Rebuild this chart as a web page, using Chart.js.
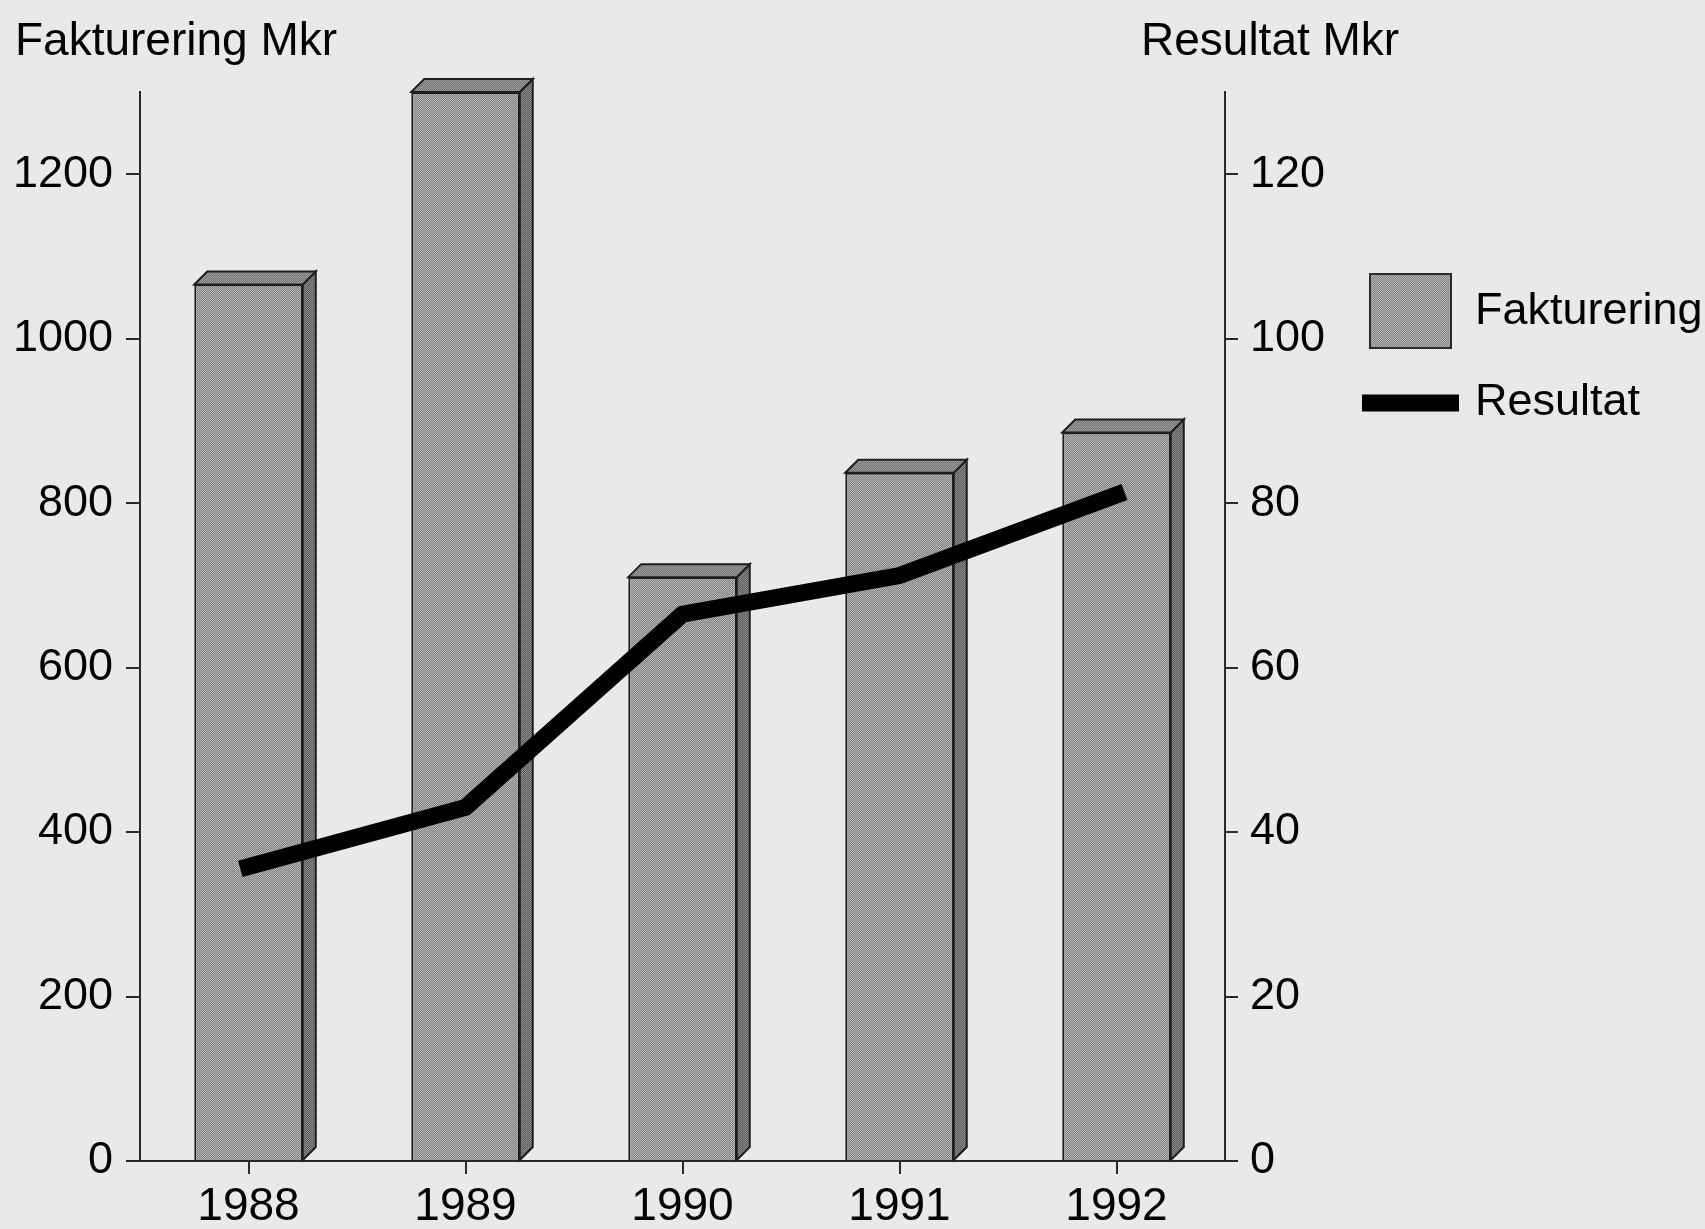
<!DOCTYPE html>
<html>
<head>
<meta charset="utf-8">
<script src="https://cdn.jsdelivr.net/npm/chart.js@4.4.1/dist/chart.umd.min.js"></script>
<style>
  html, body { margin: 0; padding: 0; background: #e9e9e8; }
  #wrap { width: 1705px; height: 1229px; position: relative; }
</style>
</head>
<body>
<div id="wrap"><canvas id="chart"></canvas></div>
<script>
// Data
const years = ['1988', '1989', '1990', '1991', '1992'];
const fakturering = [1066, 1300, 710, 837, 886];   // Mkr, left axis
const resultat = [35.8, 43, 66.5, 71.2, 81];       // Mkr, right axis
const leftTicks = [0, 200, 400, 600, 800, 1000, 1200];
const rightTicks = [0, 20, 40, 60, 80, 100, 120];

const FONT = "'Liberation Sans', Arial, Helvetica, sans-serif";

// Stippled gray fill like the printed raster
function makePattern(light, dark) {
    const c = document.createElement('canvas');
    c.width = 4; c.height = 4;
    const g = c.getContext('2d');
    for (let i = 0; i < 4; i++) {
        for (let j = 0; j < 4; j++) {
            g.fillStyle = (i + j) % 2 === 0 ? light : dark;
            g.fillRect(i, j, 1, 1);
        }
    }
    return g.createPattern(c, 'repeat');
}
const frontFill = makePattern('#b6b6b6', '#808080');
const topFill = makePattern('#a0a0a0', '#707070');
const sideFill = makePattern('#8c8c8c', '#5a5a5a');

// Side and top faces of the bars
const bar3d = {
    id: 'bar3d',
    afterDatasetDraw(chart, args) {
        if (args.index !== 0) return;
        const ctx = chart.ctx;
        const d = 13;
        ctx.save();
        ctx.lineWidth = 2;
        ctx.strokeStyle = '#1e1e1e';
        ctx.lineJoin = 'miter';
        args.meta.data.forEach(bar => {
            const { x, y, base, width } = bar.getProps(['x', 'y', 'base', 'width'], true);
            const l = x - width / 2, r = x + width / 2;
            // side
            ctx.beginPath();
            ctx.moveTo(r, y);
            ctx.lineTo(r + d, y - d);
            ctx.lineTo(r + d, base - d);
            ctx.lineTo(r, base);
            ctx.closePath();
            ctx.fillStyle = sideFill;
            ctx.fill();
            ctx.stroke();
            // top
            ctx.beginPath();
            ctx.moveTo(l, y);
            ctx.lineTo(l + d, y - d);
            ctx.lineTo(r + d, y - d);
            ctx.lineTo(r, y);
            ctx.closePath();
            ctx.fillStyle = topFill;
            ctx.fill();
            ctx.stroke();
        });
        ctx.restore();
    }
};

// Axis titles and legend
const extras = {
    id: 'extras',
    afterDraw(chart) {
        const ctx = chart.ctx;
        ctx.save();
        ctx.fillStyle = '#000';
        ctx.font = '46px ' + FONT;
        ctx.textBaseline = 'middle';
        ctx.textAlign = 'left';
        ctx.fillText('Fakturering Mkr', 15, 42);
        ctx.fillText('Resultat Mkr', 1141, 42);

        // legend
        const ds = chart.data.datasets;
        ctx.font = '45px ' + FONT;
        ctx.fillStyle = frontFill;
        ctx.fillRect(1370, 274, 81, 74);
        ctx.lineWidth = 2;
        ctx.strokeStyle = '#2a2a2a';
        ctx.strokeRect(1370, 274, 81, 74);
        ctx.fillStyle = '#000';
        ctx.fillText(ds[0].label, 1475, 312);

        ctx.beginPath();
        ctx.moveTo(1362, 403);
        ctx.lineTo(1459, 403);
        ctx.lineWidth = 17;
        ctx.strokeStyle = ds[1].borderColor;
        ctx.stroke();
        ctx.fillText(ds[1].label, 1475, 403);
        ctx.restore();
    }
};

const axisColor = '#2a2a2a';
const plain = v => String(v);

new Chart(document.getElementById('chart'), {
    data: {
        labels: years,
        datasets: [
            {
                type: 'bar',
                label: 'Fakturering',
                data: fakturering,
                yAxisID: 'y',
                backgroundColor: frontFill,
                borderColor: '#1e1e1e',
                borderWidth: 2,
                barPercentage: 0.5,
                categoryPercentage: 1.0,
                order: 1,
            },
            {
                type: 'line',
                label: 'Resultat',
                data: resultat,
                yAxisID: 'y1',
                borderColor: '#000',
                borderWidth: 17,
                borderCapStyle: 'square',
                borderJoinStyle: 'miter',
                pointRadius: 0,
                fill: false,
                tension: 0,
                order: 0,
            },
        ],
    },
    options: {
        responsive: true,
        maintainAspectRatio: false,
        animation: false,
        layout: { padding: { top: 92, left: 0, right: 0, bottom: 0 } },
        plugins: {
            legend: { display: false },
            tooltip: { enabled: false },
        },
        scales: {
            x: {
                type: 'category',
                offset: true,
                grid: {
                    offset: false,
                    drawOnChartArea: false,
                    drawTicks: true,
                    tickLength: 13,
                    color: axisColor,
                    lineWidth: 2,
                },
                border: { display: true, color: axisColor, width: 2 },
                ticks: {
                    color: '#000',
                    font: { size: 46, family: FONT },
                    padding: 6,
                    maxRotation: 0,
                },
                afterFit(scale) { scale.height = 68; },
            },
            y: {
                position: 'left',
                min: 0,
                max: 1300,
                afterBuildTicks(scale) { scale.ticks = leftTicks.map(v => ({ value: v })); },
                grid: {
                    drawOnChartArea: false,
                    tickLength: 14,
                    color: axisColor,
                    lineWidth: 2,
                },
                border: { display: true, color: axisColor, width: 2 },
                ticks: {
                    color: '#000',
                    font: { size: 45, family: FONT },
                    padding: 13,
                    callback: plain,
                },
                afterFit(scale) { scale.width = 140; },
            },
            y1: {
                position: 'right',
                min: 0,
                max: 130,
                afterBuildTicks(scale) { scale.ticks = rightTicks.map(v => ({ value: v })); },
                grid: {
                    drawOnChartArea: false,
                    tickLength: 13,
                    color: axisColor,
                    lineWidth: 2,
                },
                border: { display: true, color: axisColor, width: 2 },
                ticks: {
                    color: '#000',
                    font: { size: 45, family: FONT },
                    padding: 12,
                    callback: plain,
                },
                afterFit(scale) { scale.width = 480; },
            },
        },
    },
    plugins: [bar3d, extras],
});
</script>
</body>
</html>
